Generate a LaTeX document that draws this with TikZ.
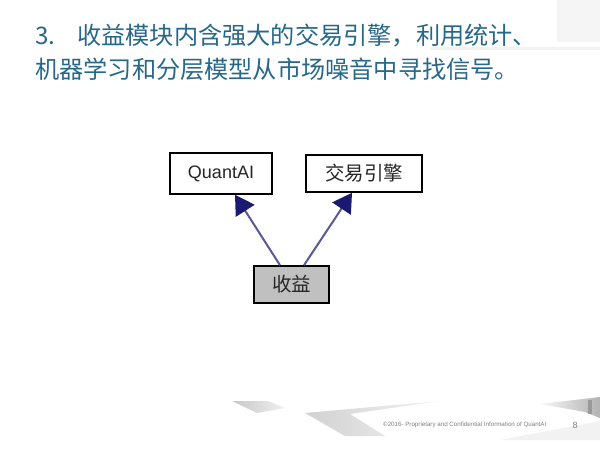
\documentclass[tikz,border=0pt]{standalone}
\usepackage{fontspec}
\setmainfont{Liberation Sans}
\newfontfamily\cjk{Noto Sans CJK SC}
\usetikzlibrary{arrows.meta}
\definecolor{titleblue}{HTML}{276888}
\definecolor{edgecol}{HTML}{5A5A92}
\definecolor{headcol}{HTML}{1A1A70}
\definecolor{boxgray}{HTML}{C0C0C0}
\tikzset{
  umlbox/.style={draw=black, line width=1.6pt, fill=white, inner sep=0pt, text=black!85},
  inherit/.style={draw=edgecol, line width=2pt, -{Triangle[length=19pt,width=22pt,fill=headcol,color=headcol]}},
  titletext/.style={anchor=west, inner sep=0pt, text=titleblue, font=\cjk\fontsize{24.2}{28}\selectfont},
  deco/.style={draw=none}
}
\begin{document}
\begin{tikzpicture}[x=1pt,y=-1pt]
\useasboundingbox (0,0) rectangle (600,450);
\fill[white] (0,0) rectangle (600,450);
% top right decoration
\fill[black!4] (557,0) rectangle (600,42);
\fill[black!5] (430,47) rectangle (600,50);
% bottom decorations
\shade[deco, left color=black!22, right color=black!6] (232,401) -- (268,401) -- (285,408) -- (257,413) -- cycle;
\shade[deco, left color=black!18, right color=black!5] (305,413) -- (440,401) -- (350,414) -- (385,436) -- (345,436) -- cycle;
\shade[deco, left color=black!3, right color=black!30] (540,404) -- (600,397) -- (600,418) -- (585,412) -- cycle;
\fill[black!40] (588,400) rectangle (592,414);
\fill[black!5] (500,440) -- (600,421) -- (600,440) -- cycle;
% title
\node[titletext] (t1) at (35,36) {3.\hspace{22pt}收益模块内含强大的交易引擎，利用统计、};
\node[titletext] (t2) at (35,69) {机器学习和分层模型从市场噪音中寻找信号。};
% nodes
\node[umlbox, minimum width=102pt, minimum height=41pt, font=\fontsize{18}{20}\selectfont] (qa) at (221,173.5) {QuantAI};
\node[umlbox, minimum width=116pt, minimum height=37pt, font=\cjk\fontsize{19.5}{22}\selectfont] (jy) at (364,173.5) {交易引擎};
\node[umlbox, fill=boxgray, minimum width=75pt, minimum height=37pt, font=\cjk\fontsize{19.5}{22}\selectfont] (sy) at (291.5,284.5) {收益};
% connectors
\draw[inherit] ([xshift=-11.5pt]sy.north) -- ([xshift=14pt]qa.south);
\draw[inherit] ([xshift=12.5pt]sy.north) -- ([xshift=-12pt]jy.south);
% footer
\node[anchor=west, inner sep=0pt, text=black!50, font=\fontsize{6.2}{7}\selectfont] (ft) at (383,425) {©2016- Proprietary and Confidential Information of QuantAI};
\node[inner sep=0pt, text=black!50, font=\fontsize{9}{10}\selectfont] (pg) at (575,425) {8};
\end{tikzpicture}
\end{document}
